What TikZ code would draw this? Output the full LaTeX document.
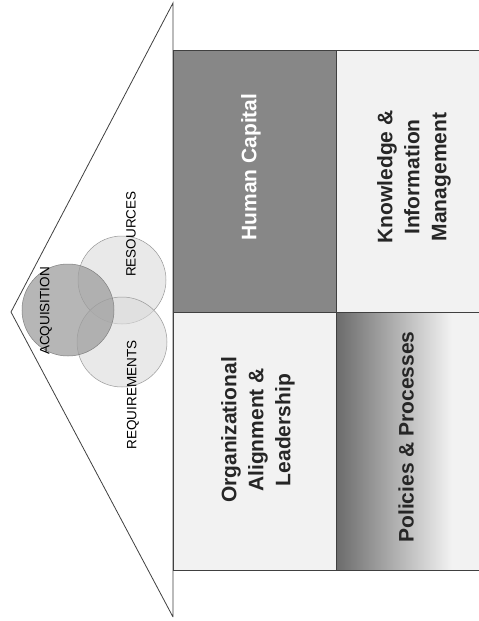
\documentclass[tikz,border=0pt]{standalone}
\usepackage{fontspec}
\setmainfont{Liberation Sans}
\begin{document}
\begin{tikzpicture}[x=1pt,y=-1pt,
  edge/.style={draw=black!75,line width=0.8pt},
  lightbox/.style={fill=black!5,draw=black!75,line width=0.7pt},
  bigtext/.style={font=\fontsize{21}{27}\selectfont\bfseries,align=center,rotate=90,text=black!85},
  smalltext/.style={font=\fontsize{13.5}{16}\selectfont,rotate=90,text=black},
  lightcircle/.style={fill=black!14,fill opacity=0.6,draw=black!40,line width=0.5pt},
  darkcircle/.style={fill=black!38,fill opacity=0.75,draw=black!50,line width=0.5pt}]
\useasboundingbox (0,0) rectangle (479,621);
\fill[white] (0,0) rectangle (479,621);
% boxes
\path[lightbox] (336,50) rectangle (482,312);
\path[lightbox] (173,312) rectangle (336,570);
\path[fill=black!47,draw=black!75,line width=0.7pt] (173,50) rectangle (336,312);
\fill[black!5] (336,312) rectangle (482,570);
\shade[left color=black!58,right color=black!5] (336,312) rectangle (452,570);
\draw[black!75,line width=0.7pt] (336,312) -- (482,312) (336,570) -- (482,570) (336,312) -- (336,570);
% roof
\coordinate (top) at (173,3);
\coordinate (apex) at (11,312);
\coordinate (bot) at (173,617);
\draw[edge,line join=miter] (bot) -- (apex) -- (top) -- (bot);
% circles
\path[lightcircle] (122,280) circle (44);
\path[lightcircle] (122,342) circle (45);
\path[darkcircle] (68,310) circle (46);
% labels
\node[smalltext] (acq) at (46,311) {ACQUISITION};
\node[smalltext] (res) at (131,234) {RESOURCES};
\node[smalltext] (req) at (133,395) {REQUIREMENTS};
\node[bigtext,text=white] (hc) at (251,167) {Human Capital};
\node[bigtext] (kim) at (414,177) {Knowledge \&\\Information\\Management};
\node[bigtext] (oal) at (258,430) {Organizational\\Alignment \&\\Leadership};
\node[bigtext] (pp) at (406,437) {Policies \& Processes};
\end{tikzpicture}
\end{document}
